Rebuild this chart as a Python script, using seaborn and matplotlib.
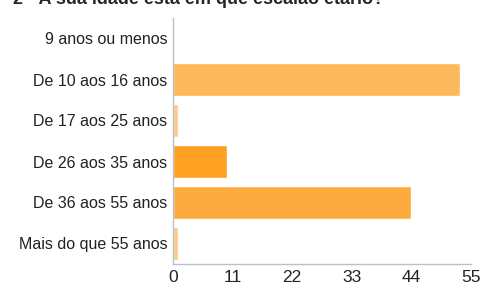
import matplotlib
matplotlib.use("Agg")
import matplotlib.pyplot as plt
import seaborn as sns
import pandas as pd

categories = ["9 anos ou menos", "De 10 aos 16 anos", "De 17 aos 25 anos",
              "De 26 aos 35 anos", "De 36 aos 55 anos", "Mais do que 55 anos"]
counts = [0, 53, 1, 10, 44, 1]
bar_colors = ["#fdcb85", "#fdb85a", "#fdcb85", "#fea021", "#fdab3e", "#fdcb85"]
x_ticks = [0, 11, 22, 33, 44, 55]
title = "2 - A sua idade está em que escalão etário?"

df = pd.DataFrame({"faixa": categories, "n": counts})

sns.set_style("white")
plt.rcParams["font.family"] = ["Liberation Sans", "DejaVu Sans"]

fig = plt.figure(figsize=(4.87, 2.87), dpi=100)
# axes box in pixels: left 173, right 471, top 18, bottom 264
ax = fig.add_axes([173 / 487, 1 - 264 / 287, 298 / 487, 246 / 287])

sns.barplot(data=df, y="faixa", x="n", hue="faixa", palette=bar_colors,
            saturation=1, legend=False, width=0.8, ax=ax, orient="h")

ax.set_xlim(0, 55)
ax.set_xticks(x_ticks)
ax.set_xlabel("")
ax.set_ylabel("")
for s in ["top", "right"]:
    ax.spines[s].set_visible(False)
for s in ["left", "bottom"]:
    ax.spines[s].set_color("#b8c0cc")
    ax.spines[s].set_linewidth(1)
ax.tick_params(axis="y", length=3, color="#b8c0cc", labelsize=11.5, labelcolor="#222222", pad=1)
ax.tick_params(axis="x", length=3, color="#b8c0cc", labelsize=12.5, labelcolor="#222222", pad=1)

fig.text(0.027, 1.0, title, fontsize=13, fontweight="bold", va="center", ha="left")

fig.savefig("out.png", dpi=100)
